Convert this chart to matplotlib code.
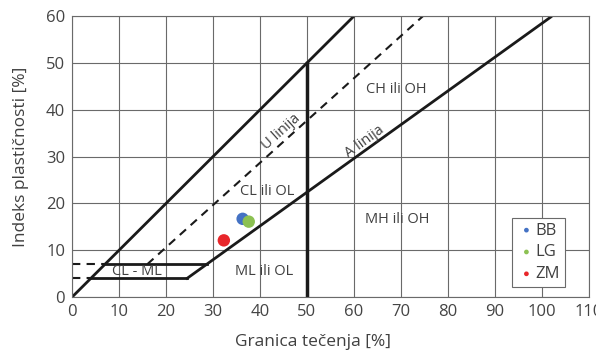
import matplotlib.pyplot as plt
import numpy as np

plt.rcParams['font.family'] = ['Open Sans', 'DejaVu Sans']

# sample points (granica tecenja, indeks plasticnosti)
names = ["BB", "LG", "ZM"]
ll_vals = [36.3, 37.6, 32.3]
pi_vals = [16.7, 16.1, 12.1]
colors = ["#4472c4", "#8cc152", "#e8262a"]

# chart lines
left_x = [0, 60]
left_y = [0, 60]
u_x = [16, 74.7]
u_y = [7, 60]
a_x = [24.5, 101.9]
a_y = [4, 59.8]
cl_ml_top_x = [7.3, 28.7]
cl_ml_top_y = [7, 7]
cl_ml_bot_x = [3.8, 24.5]
cl_ml_bot_y = [4, 4]

fig = plt.figure(figsize=(5.96, 3.57), dpi=100)
ax = fig.add_axes([0.121, 0.168, 0.867, 0.787])

ax.set_xlim(0, 110)
ax.set_ylim(0, 60)
ax.set_xticks(np.arange(0, 111, 10))
ax.set_yticks(np.arange(0, 61, 10))
ax.grid(True, color="#6a6a6a", linewidth=0.8)
ax.set_axisbelow(True)
for s in ax.spines.values():
    s.set_color("#6a6a6a")
    s.set_linewidth(0.8)
ax.tick_params(length=0, labelsize=12, labelcolor="#444444", pad=5)

k = "#1a1a1a"
ax.plot(left_x, left_y, color=k, lw=2)
ax.plot(u_x, u_y, color=k, lw=1.5, ls=(0, (4, 3)))
ax.plot([0, 7.3], [7, 7], color=k, lw=1.5, ls=(0, (4, 3)))
ax.plot([0, 3.8], [4, 4], color=k, lw=1.5, ls=(0, (4, 3)))
ax.plot(a_x, a_y, color=k, lw=2)
ax.plot(cl_ml_top_x, cl_ml_top_y, color=k, lw=2)
ax.plot(cl_ml_bot_x, cl_ml_bot_y, color=k, lw=2)
ax.plot([50, 50], [0, 50], color=k, lw=2.5)

tc = "#404040"
ax.text(69, 44.3, "CH ili OH", ha="center", va="center", fontsize=10.5, color=tc)
ax.text(41.5, 22.5, "CL ili OL", ha="center", va="center", fontsize=10.5, color=tc)
ax.text(69.2, 16.6, "MH ili OH", ha="center", va="center", fontsize=10.5, color=tc)
ax.text(40.9, 5.4, "ML ili OL", ha="center", va="center", fontsize=10.5, color=tc)
ax.text(13.8, 5.4, "CL - ML", ha="center", va="center", fontsize=10.5, color=tc)

ang_u = np.degrees(np.arctan(0.9 * 4.67 / 4.68))
ang_a = np.degrees(np.arctan(0.73 * 4.67 / 4.68))
ax.text(44.5, 35.3, "U linija", rotation=ang_u, ha="center", va="center",
        fontsize=10.5, color=tc, rotation_mode="anchor")
ax.text(62.2, 33.2, "A linija", rotation=ang_a, ha="center", va="center",
        fontsize=10.5, color=tc, rotation_mode="anchor")

for n, x, y, c in zip(names, ll_vals, pi_vals, colors):
    ax.scatter(x, y, s=80, color=c, label=n, zorder=5, edgecolors="none")

leg = ax.legend(loc="lower right", bbox_to_anchor=(0.954, 0.035), fontsize=12,
                markerscale=0.38, handletextpad=0.0, borderpad=0.3,
                labelspacing=0.35, fancybox=False, framealpha=1,
                handlelength=1.1, borderaxespad=0)
leg.get_frame().set_edgecolor("#6a6a6a")
leg.get_frame().set_linewidth(0.8)
for t in leg.get_texts():
    t.set_color(tc)

ax.set_xlabel("Granica tečenja [%]", fontsize=12.5, color=tc, labelpad=12)
ax.xaxis.set_label_coords(0.466, -0.13)
ax.set_ylabel("Indeks plastičnosti [%]", fontsize=12.5, color=tc, labelpad=12)

fig.savefig("out.png", dpi=100)
